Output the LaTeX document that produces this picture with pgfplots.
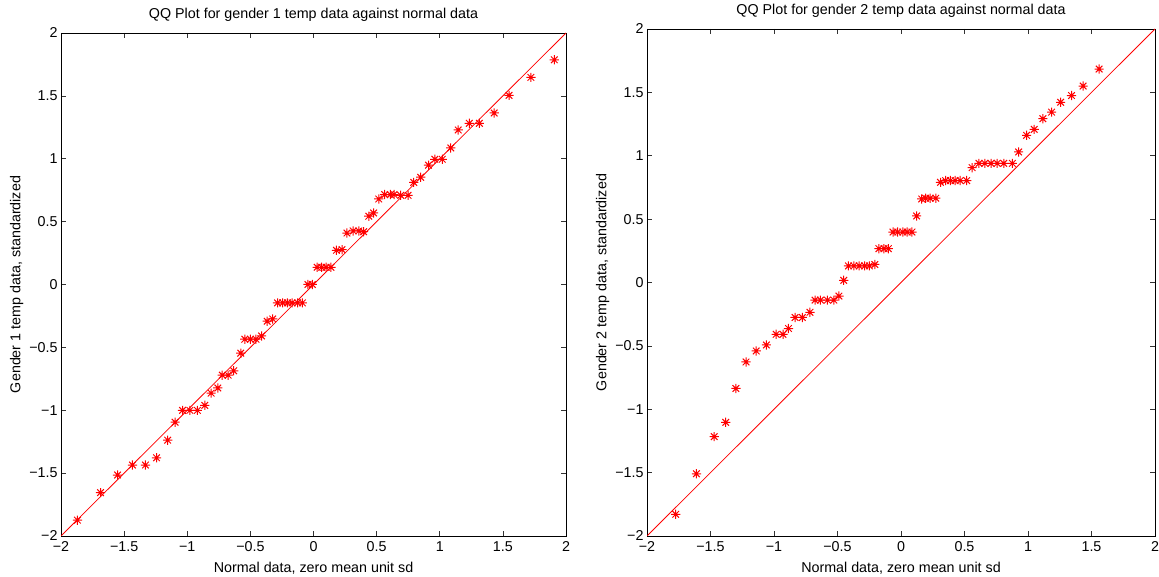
\documentclass[border=0pt]{standalone}
\usepackage{pgfplots}
\pgfplotsset{compat=1.18}
\usepackage{fontspec}
\setmainfont{Liberation Sans}
\pgfdeclareplotmark{mstar}{%
  \pgfpathmoveto{\pgfqpoint{-\pgfplotmarksize}{0pt}}\pgfpathlineto{\pgfqpoint{\pgfplotmarksize}{0pt}}%
  \pgfpathmoveto{\pgfqpoint{0pt}{-\pgfplotmarksize}}\pgfpathlineto{\pgfqpoint{0pt}{\pgfplotmarksize}}%
  \pgfpathmoveto{\pgfqpoint{-0.72\pgfplotmarksize}{-0.72\pgfplotmarksize}}\pgfpathlineto{\pgfqpoint{0.72\pgfplotmarksize}{0.72\pgfplotmarksize}}%
  \pgfpathmoveto{\pgfqpoint{-0.72\pgfplotmarksize}{0.72\pgfplotmarksize}}\pgfpathlineto{\pgfqpoint{0.72\pgfplotmarksize}{-0.72\pgfplotmarksize}}%
  \pgfusepathqstroke}
\pgfplotsset{
  qq/.style={
    scale only axis,
    anchor=south west,
    xmin=-2, xmax=2, ymin=-2, ymax=2,
    axis line style={line width=0.9bp, black},
    tick align=inside,
    major tick length=5bp,
    tick style={line width=0.7bp, black!80},
    xtick={-2,-1.5,-1,-0.5,0,0.5,1,1.5,2},
    ytick={-2,-1.5,-1,-0.5,0,0.5,1,1.5,2},
    xticklabels={−2,−1.5,−1,−0.5,0,0.5,1,1.5,2},
    yticklabels={−2,−1.5,−1,−0.5,0,0.5,1,1.5,2},
    tick label style={font=\fontsize{14.3bp}{16bp}\selectfont},
    label style={font=\fontsize{14.3bp}{16bp}\selectfont},
    title style={font=\fontsize{14.3bp}{16bp}\selectfont, yshift=2bp},
    xticklabel style={yshift=-2bp},
    yticklabel style={xshift=0bp},
    xlabel style={yshift=-4bp},
    ylabel style={yshift=-1bp},
    xlabel={Normal data, zero mean unit sd},
    clip=true,
  },
  pts/.style={only marks, mark=mstar, mark size=4.6bp, red, mark options={line width=1bp, solid}},
  ref/.style={red, line width=0.8bp, no markers},
}
\begin{document}
\begin{tikzpicture}
\useasboundingbox (0,0) rectangle (1159bp,577bp);
\begin{axis}[qq, at={(61bp,41bp)}, width=505bp, height=503bp,
  title={QQ Plot for gender 1 temp data against normal data},
  ylabel={Gender 1 temp data, standardized}]
\addplot[ref] coordinates {(-2,-2) (2,2)};
\addplot[pts] coordinates {
(-1.870,-1.874) (-1.687,-1.655) (-1.552,-1.515) (-1.434,-1.436) (-1.331,-1.436)
(-1.243,-1.378) (-1.155,-1.238) (-1.096,-1.095) (-1.037,-1.001) (-0.979,-1.001)
(-0.920,-1.001) (-0.861,-0.961) (-0.811,-0.864) (-0.758,-0.823) (-0.723,-0.721)
(-0.676,-0.721) (-0.632,-0.686) (-0.576,-0.546) (-0.544,-0.435) (-0.500,-0.435)
(-0.456,-0.435) (-0.411,-0.409) (-0.367,-0.292) (-0.323,-0.274) (-0.285,-0.146)
(-0.244,-0.146) (-0.206,-0.146) (-0.170,-0.146) (-0.126,-0.146) (-0.088,-0.146)
(-0.044,0.000) (-0.009,0.000) (0.029,0.137) (0.065,0.137) (0.100,0.137)
(0.138,0.137) (0.182,0.272) (0.226,0.277) (0.265,0.409) (0.314,0.426)
(0.359,0.426) (0.397,0.420) (0.438,0.543) (0.476,0.569) (0.517,0.680)
(0.564,0.715) (0.608,0.715) (0.638,0.715) (0.691,0.709) (0.749,0.709)
(0.794,0.812) (0.849,0.853) (0.911,0.949) (0.961,0.996) (1.020,0.996)
(1.087,1.086) (1.146,1.229) (1.234,1.282) (1.314,1.282) (1.431,1.364)
(1.549,1.504) (1.722,1.647) (1.907,1.787)
};
\end{axis}
\begin{axis}[qq, at={(647bp,41bp)}, width=508bp, height=507bp,
  title={QQ Plot for gender 2 temp data against normal data},
  ylabel={Gender 2 temp data, standardized}]
\addplot[ref] coordinates {(-2,-2) (2,2)};
\addplot[pts] coordinates {
(-1.774,-1.829) (-1.611,-1.509) (-1.471,-1.216) (-1.380,-1.103) (-1.300,-0.836)
(-1.220,-0.627) (-1.140,-0.540) (-1.060,-0.493) (-0.983,-0.409) (-0.929,-0.409)
(-0.886,-0.363) (-0.834,-0.276) (-0.777,-0.276) (-0.717,-0.235) (-0.677,-0.139)
(-0.634,-0.139) (-0.580,-0.139) (-0.529,-0.139) (-0.489,-0.107) (-0.451,0.017)
(-0.414,0.131) (-0.371,0.131) (-0.329,0.131) (-0.286,0.131) (-0.249,0.131)
(-0.206,0.142) (-0.174,0.267) (-0.134,0.267) (-0.100,0.267) (-0.063,0.398)
(-0.026,0.398) (0.014,0.398) (0.049,0.398) (0.086,0.398) (0.123,0.525)
(0.163,0.659) (0.194,0.665) (0.229,0.665) (0.274,0.665) (0.311,0.790)
(0.351,0.804) (0.389,0.804) (0.426,0.804) (0.466,0.804) (0.517,0.804)
(0.560,0.906) (0.614,0.940) (0.660,0.940) (0.709,0.940) (0.757,0.940)
(0.809,0.940) (0.877,0.940) (0.926,1.030) (0.989,1.161) (1.049,1.208)
(1.117,1.292) (1.186,1.344) (1.257,1.422) (1.343,1.475) (1.434,1.550)
(1.560,1.684)
};
\end{axis}
\end{tikzpicture}
\end{document}
